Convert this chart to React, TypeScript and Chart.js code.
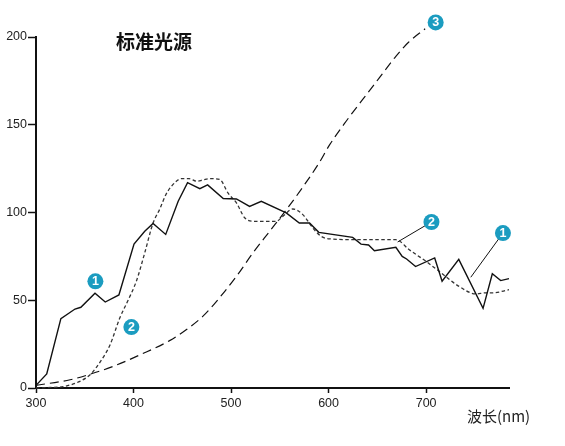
import React, { useEffect, useRef } from "react";
import { Chart, registerables } from "chart.js";

Chart.register(...registerables);

// Curve 1 (solid)
const curve1Nm = [300, 311, 325.5, 340, 346, 360.5, 371, 385, 400.5, 411.5, 420, 433, 445.8, 455.4, 468, 476, 492, 505.5, 519, 531, 556.6, 570, 580.5, 590, 624.7, 633.3, 641, 647, 669, 675.5, 680, 689.2, 708.8, 716.4, 733.5, 758.4, 767.9, 776.5, 785];
const curve1Val = [1.5, 8, 39.5, 45, 46, 54, 49, 53, 82, 89.3, 93.7, 87.5, 106.4, 117, 113.6, 115.7, 108, 107.7, 103.5, 106.4, 99.8, 94, 94, 88.7, 85.8, 82, 81.5, 78.2, 80.2, 75, 73.5, 69.2, 74.1, 60.8, 73.3, 45.4, 65.1, 61.2, 62.3];

// Curve 2 (short dashes)
const curve2Nm = [300, 315, 328, 345, 355.5, 366, 376, 386, 394.7, 403, 411.5, 420, 427, 433, 439, 449.3, 457, 464.6, 471, 478.2, 488.4, 497, 505.5, 514, 522.5, 546.4, 553, 563.4, 573.6, 583.8, 592.4, 601, 631.6, 669, 682.7, 699.8, 713.4, 733.8, 750.9, 761, 767.9, 785];
const curve2Val = [0, 0.3, 0.8, 3.8, 7.6, 15, 24.7, 40, 50.3, 61, 77, 94, 102, 110, 115, 119.3, 119.3, 117.8, 118.5, 119.3, 118.8, 111, 105.5, 97, 95, 95, 97.8, 102, 98.8, 91.2, 86.4, 85, 84.5, 84.5, 78.8, 72.2, 66.5, 57.9, 53.6, 54.2, 54.2, 56];

// Curve 3 (long dashes)
const curve3Nm = [300, 335, 354, 379, 407, 437, 454, 471, 488, 505.5, 522.5, 539.6, 556.6, 573.6, 590, 601, 618, 635, 652, 669, 682, 699];
const curve3Val = [1.5, 4.7, 7.6, 12.3, 19, 27, 33.2, 40.8, 51.3, 63.6, 77, 89.3, 101.5, 114.5, 128, 138.5, 152, 164.4, 176.7, 189, 197, 204.7];

// Axis ticks
const xTicks = [300, 400, 500, 600, 700];
const yTicks = [0, 50, 100, 150, 200];

// Numbered callouts
const calloutText = ["1", "2", "2", "1", "3"];
const calloutNm = [360.9, 397.8, 705.5, 778.8, 709.8];
const calloutVal = [60.8, 34.7, 94.6, 88.3, 208.3];
const leaderFromNm = [null, null, 670.8, 745.8, null];
const leaderFromVal = [null, null, 83.2, 63.1, null];

const titleText = "标准光源";
const xAxisTitle = "波长(nm)";

const pairs = (xs: number[], ys: number[]) => xs.map((x, i) => ({ x, y: ys[i] }));

const TEAL = "#1b9cc0";

const annotPlugin = {
  id: "annot",
  afterDatasetsDraw(chart: any) {
    const ctx = chart.ctx;
    const xs = chart.scales.x;
    const ys = chart.scales.y;
    ctx.save();
    // title
    ctx.fillStyle = "#111";
    ctx.font = 'bold 19px "Noto Sans CJK SC"';
    ctx.textAlign = "left";
    ctx.textBaseline = "middle";
    ctx.fillText(titleText, 116, 42);
    // x axis title
    ctx.fillStyle = "#222";
    ctx.font = '15px "Noto Sans CJK SC"';
    ctx.fillText(xAxisTitle, 467, 416);
    // callouts
    for (let i = 0; i < calloutText.length; i++) {
      const cx = xs.getPixelForValue(calloutNm[i]);
      const cy = ys.getPixelForValue(calloutVal[i]);
      const fn = leaderFromNm[i];
      const fv = leaderFromVal[i];
      if (fn != null && fv != null) {
        ctx.beginPath();
        ctx.strokeStyle = "#111";
        ctx.lineWidth = 1;
        ctx.moveTo(xs.getPixelForValue(fn), ys.getPixelForValue(fv));
        ctx.lineTo(cx, cy);
        ctx.stroke();
      }
      ctx.beginPath();
      ctx.fillStyle = TEAL;
      ctx.arc(cx, cy, 8, 0, Math.PI * 2);
      ctx.fill();
      ctx.fillStyle = "#fff";
      ctx.font = 'bold 12.5px "Liberation Sans"';
      ctx.textAlign = "center";
      ctx.textBaseline = "middle";
      ctx.fillText(calloutText[i], cx, cy + 0.5);
    }
    ctx.restore();
  },
};

export default function App() {
  const ref = useRef<HTMLCanvasElement | null>(null);
  useEffect(() => {
    if (!ref.current) return;
    const chart = new Chart(ref.current, {
      type: "line",
      data: {
        datasets: [
          {
            label: "1",
            data: pairs(curve1Nm, curve1Val),
            borderColor: "#111",
            borderWidth: 1.4,
            pointRadius: 0,
            tension: 0,
            clip: false as any,
          },
          {
            label: "2",
            data: pairs(curve2Nm, curve2Val),
            borderColor: "#333",
            borderWidth: 1.3,
            borderDash: [3.5, 2.5],
            pointRadius: 0,
            cubicInterpolationMode: "monotone",
            clip: false as any,
          },
          {
            label: "3",
            data: pairs(curve3Nm, curve3Val),
            borderColor: "#111",
            borderWidth: 1.2,
            borderDash: [9, 5],
            pointRadius: 0,
            cubicInterpolationMode: "monotone",
            clip: false as any,
          },
        ],
      },
      options: {
        responsive: false,
        animation: false,
        devicePixelRatio: 1,
        layout: { padding: { left: 0, top: 37, right: 56, bottom: 0 } },
        plugins: { legend: { display: false }, tooltip: { enabled: false }, title: { display: false } },
        scales: {
          x: {
            type: "linear",
            min: 300,
            max: 785,
            afterFit: (s: any) => {
              s.height = 58;
            },
            afterBuildTicks: (s: any) => {
              s.ticks = xTicks.map((v) => ({ value: v }));
            },
            border: { display: true, color: "#111", width: 2 },
            grid: { drawOnChartArea: false, drawTicks: true, tickLength: 5, tickWidth: 1.5, tickColor: "#111" },
            ticks: {
              color: "#222",
              padding: 3,
              maxRotation: 0,
              font: { family: '"Liberation Sans", Arial, sans-serif', size: 12.5 },
            },
          },
          y: {
            type: "linear",
            min: 0,
            max: 200,
            afterFit: (s: any) => {
              s.width = 36;
            },
            afterBuildTicks: (s: any) => {
              s.ticks = yTicks.map((v) => ({ value: v }));
            },
            border: { display: true, color: "#111", width: 2 },
            grid: { drawOnChartArea: false, drawTicks: true, tickLength: 8, tickWidth: 1.5, tickColor: "#111" },
            ticks: {
              color: "#222",
              padding: 1,
              font: { family: '"Liberation Sans", Arial, sans-serif', size: 12.5 },
            },
          },
        },
      },
      plugins: [annotPlugin],
    });
    return () => chart.destroy();
  }, []);
  return (
    <div style={{ position: "absolute", left: 0, top: 0, width: 565, height: 446, background: "#fff" }}>
      <canvas ref={ref} width={565} height={446} />
    </div>
  );
}
